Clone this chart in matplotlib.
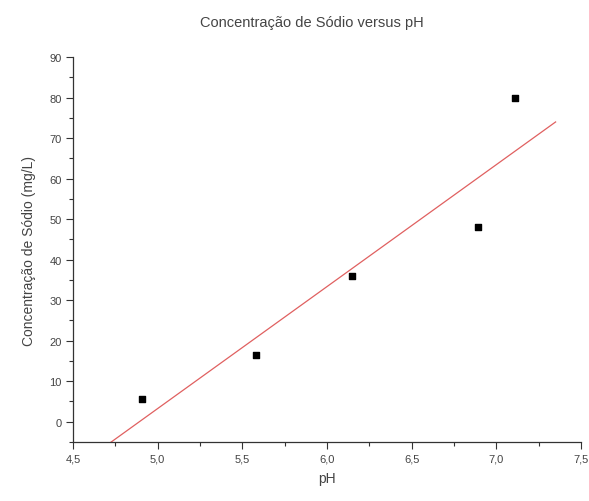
import numpy as np
import matplotlib
matplotlib.use("Agg")
import matplotlib.pyplot as plt
from matplotlib.ticker import MultipleLocator, FuncFormatter

# pH vs sodium concentration
ph = [4.91, 5.58, 6.15, 6.89, 7.11]
sodio = [5.5, 16.5, 36.0, 48.0, 80.0]

TITLE = "Concentração de Sódio versus pH"
XLABEL = "pH"
YLABEL = "Concentração de Sódio (mg/L)"

plt.rcParams['font.family'] = ['Liberation Sans', 'DejaVu Sans']
txt = "#444444"

fig = plt.figure(figsize=(5.89, 5.02), dpi=100)
ax = fig.add_axes([73 / 589, 1 - 443 / 502, (581 - 73) / 589, (443 - 58) / 502])

# linear fit line
slope, inter = np.polyfit(ph, sodio, 1)
xf = np.array([4.5, 7.35])
ax.plot(xf, slope * xf + inter, color="#e06060", lw=0.9, zorder=2)

ax.scatter(ph, sodio, marker="s", s=22, color="black", zorder=3)

ax.set_xlim(4.5, 7.5)
ax.set_ylim(-5, 90)
ax.xaxis.set_major_locator(MultipleLocator(0.5))
ax.xaxis.set_minor_locator(MultipleLocator(0.25))
ax.yaxis.set_major_locator(MultipleLocator(10))
ax.yaxis.set_minor_locator(MultipleLocator(5))
ax.xaxis.set_major_formatter(FuncFormatter(lambda v, p: f"{v:.1f}".replace(".", ",")))
ax.yaxis.set_major_formatter(FuncFormatter(lambda v, p: f"{v:.0f}"))

for s in ["top", "right"]:
    ax.spines[s].set_visible(False)
for s in ["left", "bottom"]:
    ax.spines[s].set_color("#333333")
    ax.spines[s].set_linewidth(0.9)

ax.tick_params(which="major", direction="out", length=5, width=0.8,
               color="#333333", labelsize=8, labelcolor=txt, pad=3)
ax.tick_params(which="minor", direction="out", length=3, width=0.8,
               color="#333333")

ax.set_title(TITLE, fontsize=10.5, color=txt, pad=22, x=0.47)
ax.set_xlabel(XLABEL, fontsize=10, color=txt, labelpad=6)
ax.set_ylabel(YLABEL, fontsize=10, color=txt, labelpad=10)

fig.savefig("out.png", dpi=100)
